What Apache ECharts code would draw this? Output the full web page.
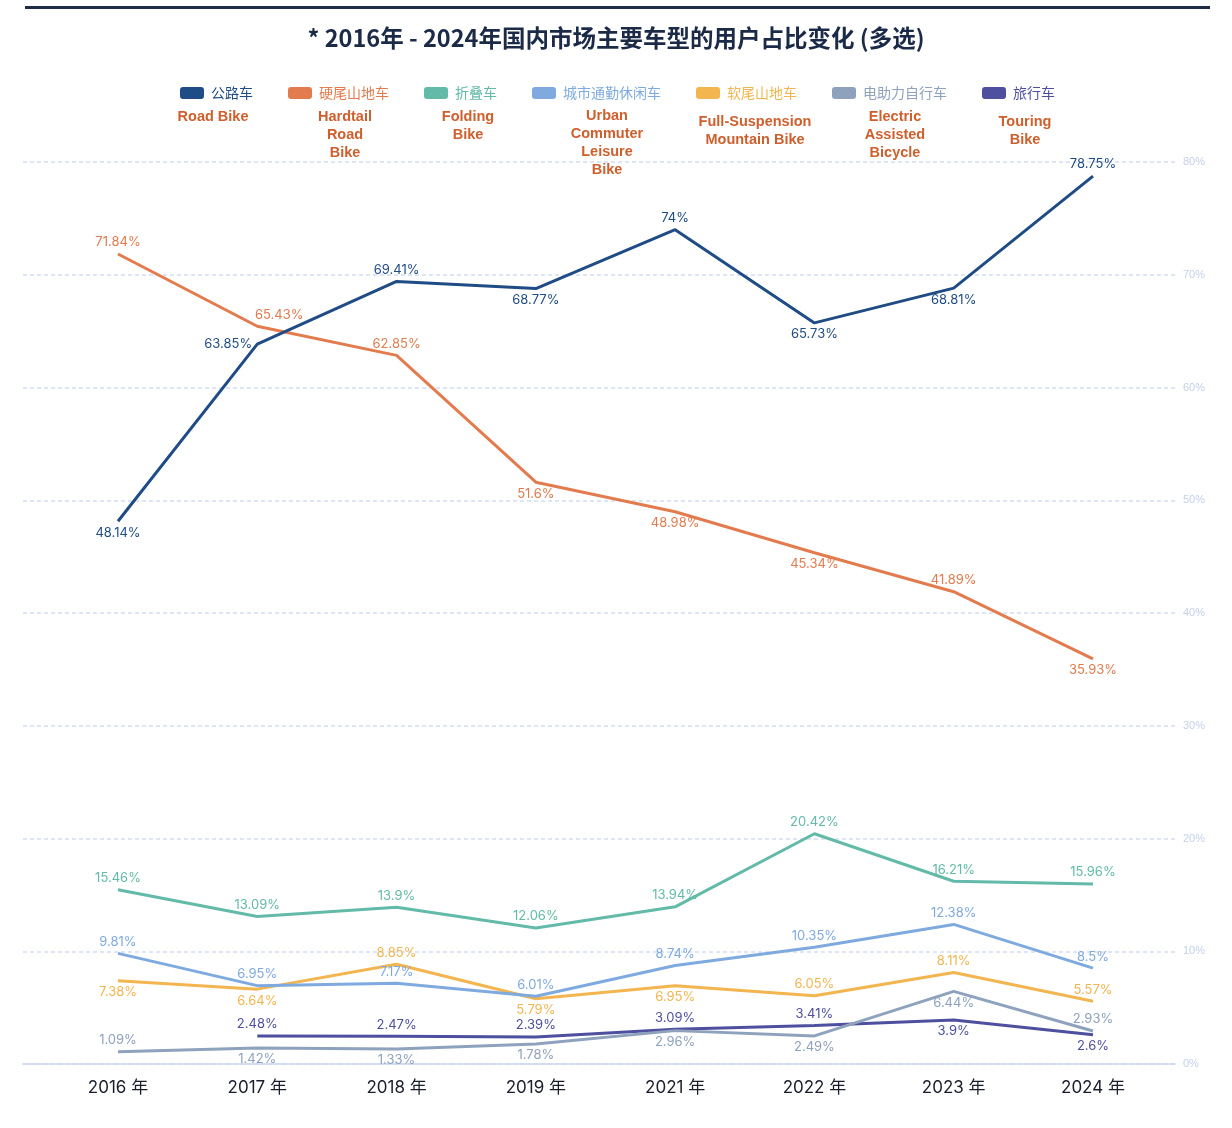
<!DOCTYPE html>
<html>
<head>
<meta charset="utf-8">
<script src="https://cdn.jsdelivr.net/npm/echarts@6/dist/echarts.min.js"></script>
<style>
html,body{margin:0;padding:0;background:#fff;}
#chart{width:1232px;height:1128px;}
</style>
</head>
<body>
<div id="chart"></div>
<script>
const titleText = '* 2016年 - 2024年国内市场主要车型的用户占比变化 (多选)';
const years = ['2016 年','2017 年','2018 年','2019 年','2021 年','2022 年','2023 年','2024 年'];
const seriesNames = ['公路车','硬尾山地车','折叠车','城市通勤休闲车','软尾山地车','电助力自行车','旅行车'];
const englishNames = ['Road Bike','Hardtail\nRoad\nBike','Folding\nBike','Urban\nCommuter\nLeisure\nBike','Full-Suspension\nMountain Bike','Electric\nAssisted\nBicycle','Touring\nBike'];
const yTicks = [0,10,20,30,40,50,60,70,80];

const roadBike      = [48.14, 63.85, 69.41, 68.77, 74, 65.73, 68.81, 78.75];
const hardtail      = [71.84, 65.43, 62.85, 51.6, 48.98, 45.34, 41.89, 35.93];
const folding       = [15.46, 13.09, 13.9, 12.06, 13.94, 20.42, 16.21, 15.96];
const urbanLeisure  = [9.81, 6.95, 7.17, 6.01, 8.74, 10.35, 12.38, 8.5];
const fullSusp      = [7.38, 6.64, 8.85, 5.79, 6.95, 6.05, 8.11, 5.57];
const electric      = [1.09, 1.42, 1.33, 1.78, 2.96, 2.49, 6.44, 2.93];
const touring       = [null, 2.48, 2.47, 2.39, 3.09, 3.41, 3.9, 2.6];

// styling (kept separate from data)
const colors = ['#1f4c85','#e27b4e','#63baa9','#7eaadf','#f2b54f','#8ea2bd','#4e4f9f'];
const labelPos = [
  ['bottom','left','top','bottom','top','bottom','bottom','top'],
  ['top','top','top','bottom','bottom','bottom','top','bottom'],
  ['top','top','top','top','top','top','top','top'],
  ['top','top','top','top','top','top','top','top'],
  ['bottom','bottom','top','bottom','bottom','top','top','top'],
  ['top','bottom','bottom','bottom','bottom','bottom','bottom','top'],
  ['top','top','top','top','top','top','bottom','bottom']
];
const labelOffset = {'1-1':[22,0]};
const engX = [213,345,468,607,755,895,1025];
const engTop = [108,108,108,107,113,108,113];

const allData = [roadBike, hardtail, folding, urbanLeisure, fullSusp, electric, touring];

const chart = echarts.init(document.getElementById('chart'), null, {renderer:'canvas'});

const series = allData.map((arr, si) => ({
  name: seriesNames[si],
  type: 'line',
  xAxisIndex: 1,
  yAxisIndex: 1,
  z: 10 - si,
  symbol: 'circle',
  symbolSize: 0.1,
  showSymbol: true,
  connectNulls: false,
  lineStyle: {width: 3, color: colors[si]},
  itemStyle: {color: colors[si]},
  data: arr.map((v, i) => ({
    value: v,
    label: {
      position: labelPos[si][i],
      offset: labelOffset[si + '-' + i] || [0,0]
    }
  })),
  label: {
    show: true,
    formatter: p => p.value == null ? '' : p.value + '%',
    color: colors[si],
    fontSize: 13,
    fontFamily: 'Inter, "Noto Sans", sans-serif',
    distance: 5
  }
}));

const option = {
  backgroundColor: '#ffffff',
  animation: false,
  title: {
    text: titleText,
    left: 'center',
    top: 21,
    textStyle: {fontSize: 23.5, fontWeight: 'bold', color: '#1b2a47', fontFamily: '"Noto Sans CJK SC", sans-serif'}
  },
  legend: {
    left: 175,
    top: 81,
    icon: 'roundRect',
    itemWidth: 24,
    itemHeight: 12,
    itemGap: 35,
    textStyle: {fontSize: 14, fontFamily: '"Noto Sans CJK SC", sans-serif', padding: [0, 0, 0, 2]},
    data: seriesNames.map((n, i) => ({name: n, textStyle: {color: colors[i]}}))
  },
  graphic: [
    {type: 'rect', left: 25, top: 6, shape: {width: 1185, height: 3}, style: {fill: '#1e2c44'}}
  ].concat(englishNames.map((t, i) => ({
    type: 'text',
    x: engX[i],
    y: engTop[i],
    style: {
      text: t,
      fill: '#cf5f2c',
      font: 'bold 14.5px "Liberation Sans", Arial, sans-serif',
      align: 'center',
      textAlign: 'center',
      verticalAlign: 'top',
      textVerticalAlign: 'top',
      lineHeight: 18
    }
  }))),
  grid: [
    {left: 23, right: 57, top: 162, bottom: 64},
    {left: 48.35, right: 69.35, top: 162, bottom: 64}
  ],
  xAxis: [
    {
      type: 'value', gridIndex: 0, min: 0, max: 1,
      axisLine: {show: true, onZero: true, lineStyle: {color: '#c9d6ee', width: 1.5}},
      axisTick: {show: false}, axisLabel: {show: false}, splitLine: {show: false}
    },
    {
      type: 'category', gridIndex: 1, data: years, boundaryGap: true,
      axisLine: {show: false}, axisTick: {show: false}, splitLine: {show: false},
      axisLabel: {color: '#1a1d2b', fontSize: 17, margin: 15, fontFamily: 'Inter, "Noto Sans CJK SC", sans-serif'}
    }
  ],
  yAxis: [
    {
      type: 'value', gridIndex: 0, position: 'right', min: 0, max: 80, interval: 10,
      axisLine: {show: false}, axisTick: {show: false},
      axisLabel: {color: '#c3d1ea', fontSize: 11, margin: 8, formatter: v => yTicks.includes(v) ? v + '%' : ''},
      splitLine: {show: true, lineStyle: {color: '#d3def3', width: 1.5, type: [4, 3]}}
    },
    {
      type: 'value', gridIndex: 1, min: 0, max: 80, interval: 10,
      show: false, splitLine: {show: false}
    }
  ],
  series: series
};

chart.setOption(option);
</script>
</body>
</html>
